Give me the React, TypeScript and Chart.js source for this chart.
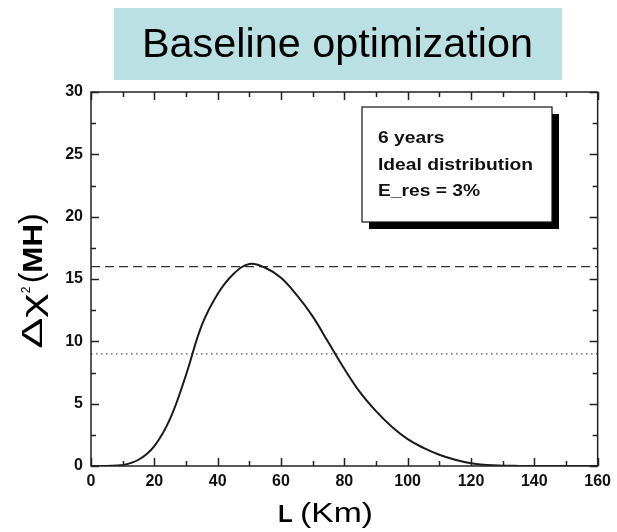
import React, { useEffect, useRef } from "react";
import { Chart, registerables } from "chart.js";

Chart.register(...registerables);

// ---- data ----
const distanceKm = [0, 5, 10, 15, 20, 25, 30, 35, 40, 45, 50, 55, 60, 65, 70, 75, 80, 85, 90, 95, 100, 105, 110, 115, 120, 125, 130, 135, 140, 150, 160];
const deltaChi2 = [0, 0.01, 0.08, 0.5, 1.6, 3.8, 7.3, 11.3, 13.8, 15.4, 16.2, 15.9, 15.1, 13.7, 12.0, 9.9, 7.8, 5.9, 4.4, 3.15, 2.15, 1.45, 0.9, 0.5, 0.22, 0.08, 0.03, 0.01, 0, 0, 0];
const xRange = [0, 160];
const yRange = [0, 30];
const xMajorStep = 20;
const xMinorStep = 10;
const yMajorStep = 5;
const yMinorStep = 2.5;
const dashedLevel = 16;
const dottedLevel = 9;
const titleText = "Baseline optimization";
const legendLines = ["6 years", "Ideal distribution", "E_res = 3%"];

const FONT = "'Liberation Sans', Arial, Helvetica, sans-serif";

function drawStretched(ctx: CanvasRenderingContext2D, text: string, x: number, y: number, sx: number) {
  ctx.save();
  ctx.translate(x, y);
  ctx.scale(sx, 1);
  ctx.fillText(text, 0, 0);
  ctx.restore();
}

const decorPlugin = {
  id: "decor",
  afterDraw(chart: any) {
    const ctx = chart.ctx as CanvasRenderingContext2D;
    const { left, right, top, bottom } = chart.chartArea;
    const xs = chart.scales.x;
    const ys = chart.scales.y;
    ctx.save();

    // title box
    ctx.fillStyle = "#BBE0E3";
    ctx.fillRect(114, 8, 448, 72);
    ctx.fillStyle = "#000";
    ctx.font = `40px ${FONT}`;
    ctx.textAlign = "left";
    ctx.textBaseline = "alphabetic";
    {
      const w = ctx.measureText(titleText).width;
      drawStretched(ctx, titleText, 142, 57, 391 / w);
    }

    // frame
    ctx.strokeStyle = "#222";
    ctx.lineWidth = 1.5;
    ctx.strokeRect(left, top, right - left, bottom - top);

    // inward ticks
    ctx.beginPath();
    for (let v = xRange[0]; v <= xRange[1] + 1e-9; v += xMinorStep) {
      const px = Math.round(xs.getPixelForValue(v)) + 0.5;
      const len = Math.abs(v % xMajorStep) < 1e-9 ? 8 : 5;
      ctx.moveTo(px, bottom);
      ctx.lineTo(px, bottom - len);
      ctx.moveTo(px, top);
      ctx.lineTo(px, top + len);
    }
    for (let v = yRange[0]; v <= yRange[1] + 1e-9; v += yMinorStep) {
      const py = Math.round(ys.getPixelForValue(v)) + 0.5;
      const len = Math.abs(v % yMajorStep) < 1e-9 ? 8 : 5;
      ctx.moveTo(left, py);
      ctx.lineTo(left + len, py);
      ctx.moveTo(right, py);
      ctx.lineTo(right - len, py);
    }
    ctx.stroke();

    // legend box with shadow
    const bx = 362, by = 107, bw = 190, bh = 115, sh = 7;
    ctx.fillStyle = "#000";
    ctx.fillRect(bx + sh, by + sh, bw, bh);
    ctx.fillStyle = "#fff";
    ctx.fillRect(bx, by, bw, bh);
    ctx.strokeStyle = "#111";
    ctx.lineWidth = 1.2;
    ctx.strokeRect(bx, by, bw, bh);
    ctx.fillStyle = "#111";
    ctx.font = `bold 17px ${FONT}`;
    ctx.textAlign = "left";
    const baselines = [143, 170, 196];
    const lsx = 155 / ctx.measureText(legendLines[1]).width;
    legendLines.forEach((t, i) => drawStretched(ctx, t, 378, baselines[i], lsx));

    // x axis title: "L (Km)"
    ctx.fillStyle = "#000";
    ctx.font = `bold 24px ${FONT}`;
    ctx.fillText("L", 278, 522);
    ctx.font = `27px ${FONT}`;
    {
      const w = ctx.measureText("(Km)").width;
      drawStretched(ctx, "(Km)", 300, 522, 73 / w);
    }

    // y axis title: "Δχ² (MH)" rotated
    ctx.save();
    ctx.translate(42, 281);
    ctx.rotate(-Math.PI / 2);
    const segs: [string, string, number, number][] = [
      ["\u0394\u03C7", `30px ${FONT}`, 0, 1.55],
      ["2", `12px ${FONT}`, 12, 1],
      [" ", `12px ${FONT}`, 0, 1],
      ["(", `32px ${FONT}`, 1, 1],
      ["MH", `bold 28px ${FONT}`, 0, 1.12],
      [")", `32px ${FONT}`, 1, 1],
    ];
    let total = 0;
    const widths = segs.map(([t, f, , s]) => {
      ctx.font = f;
      const w = ctx.measureText(t).width * s;
      total += w;
      return w;
    });
    let u = -total / 2;
    segs.forEach(([t, f, raise, s], i) => {
      ctx.font = f;
      drawStretched(ctx, t, u, -raise, s);
      u += widths[i];
    });
    ctx.restore();

    ctx.restore();
  },
};

export default function App() {
  const canvasRef = useRef<HTMLCanvasElement | null>(null);

  useEffect(() => {
    if (!canvasRef.current) return;
    const curve = distanceKm.map((x, i) => ({ x, y: deltaChi2[i] }));
    const chart = new Chart(canvasRef.current, {
      type: "line",
      data: {
        datasets: [
          {
            data: curve,
            borderColor: "#1a1a1a",
            borderWidth: 2,
            pointRadius: 0,
            tension: 0.4,
            fill: false,
          },
          {
            data: [
              { x: xRange[0], y: dashedLevel },
              { x: xRange[1], y: dashedLevel },
            ],
            borderColor: "#333",
            borderWidth: 1.3,
            borderDash: [9, 5],
            pointRadius: 0,
          },
          {
            data: [
              { x: xRange[0], y: dottedLevel },
              { x: xRange[1], y: dottedLevel },
            ],
            borderColor: "#555",
            borderWidth: 1.3,
            borderDash: [1.5, 3.5],
            pointRadius: 0,
          },
        ],
      },
      options: {
        responsive: false,
        animation: false,
        events: [],
        layout: { padding: { top: 92, right: 17, left: 0, bottom: 0 } },
        plugins: { legend: { display: false }, tooltip: { enabled: false }, title: { display: false } },
        scales: {
          x: {
            type: "linear",
            min: xRange[0],
            max: xRange[1],
            grid: { display: false, drawTicks: false },
            border: { display: false },
            ticks: {
              stepSize: xMajorStep,
              color: "#111",
              padding: 6,
              font: { family: FONT, size: 16, weight: "bold" },
              maxRotation: 0,
            },
            afterFit: (s: any) => {
              s.height = 66;
            },
          },
          y: {
            type: "linear",
            min: yRange[0],
            max: yRange[1],
            grid: { display: false, drawTicks: false },
            border: { display: false },
            ticks: {
              stepSize: yMajorStep,
              color: "#111",
              padding: 8,
              font: { family: FONT, size: 16, weight: "bold" },
            },
            afterFit: (s: any) => {
              s.width = 91;
            },
          },
        },
      },
      plugins: [decorPlugin],
    } as any);
    return () => chart.destroy();
  }, []);

  return (
    <div style={{ position: "absolute", left: 0, top: 0, width: 617, height: 532, background: "#fff" }}>
      <canvas ref={canvasRef} width={617} height={532} style={{ display: "block" }} />
    </div>
  );
}
